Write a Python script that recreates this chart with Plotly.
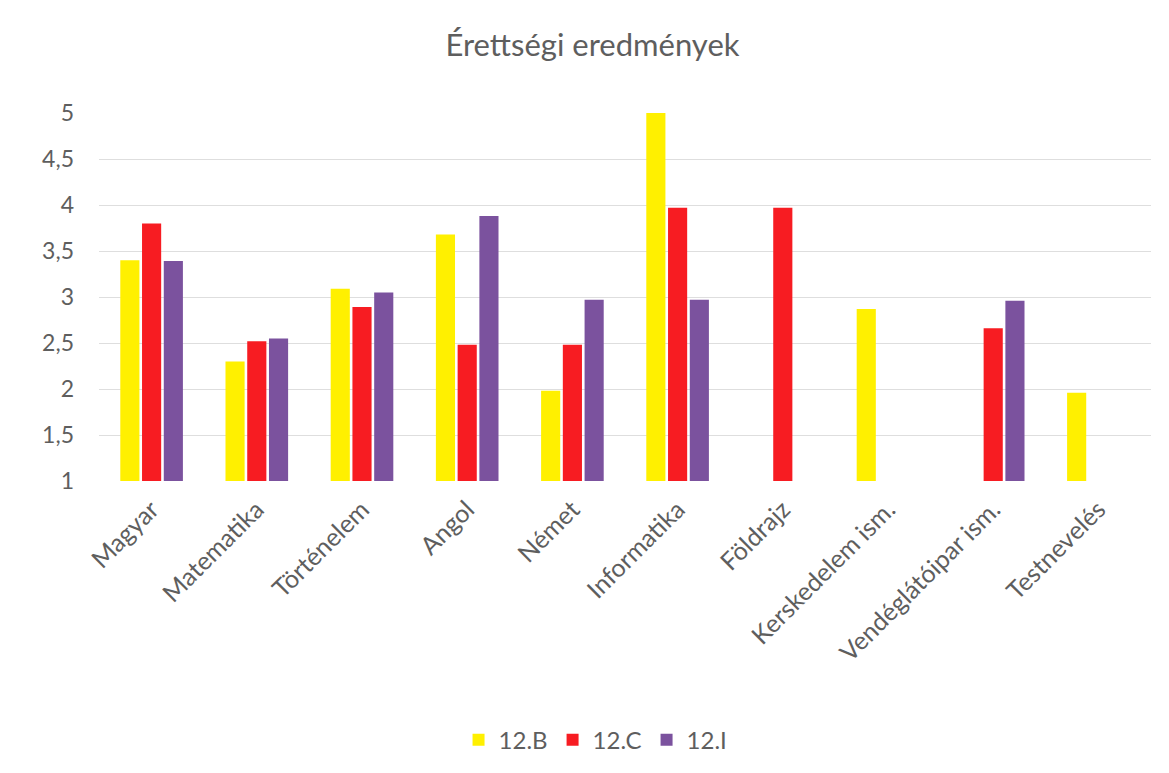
import plotly.graph_objects as go

categories = ["Magyar", "Matematika", "Történelem", "Angol", "Német", "Informatika",
              "Földrajz", "Kerskedelem ism.", "Vendéglátóipar ism.", "Testnevelés"]
series_names = ["12.B", "12.C", "12.I"]
b_values = [3.40, 2.30, 3.09, 3.68, 1.98, 5.00, None, 2.87, None, 1.96]
c_values = [3.80, 2.52, 2.89, 2.48, 2.48, 3.97, 3.97, None, 2.66, None]
i_values = [3.39, 2.55, 3.05, 3.88, 2.97, 2.97, None, None, 2.96, None]
y_ticks = [1, 1.5, 2, 2.5, 3, 3.5, 4, 4.5, 5]

colors = ["#FFF000", "#F71C22", "#7B529E"]
FONT = "Lato, 'Open Sans', sans-serif"
GREY = "#5E5E5E"

fig = go.Figure()
for name, vals, col in zip(series_names, [b_values, c_values, i_values], colors):
    fig.add_trace(go.Bar(x=categories, y=vals, name=name, marker_color=col,
                         marker_line_width=0))

fig.update_layout(
    width=1169, height=773,
    paper_bgcolor="white", plot_bgcolor="white",
    separators=", ",
    font=dict(family=FONT, color=GREY, size=20),
    title=dict(text="Érettségi eredmények", x=0.5, xanchor="center",
               y=1 - 37 / 773, yanchor="middle",
               font=dict(size=31, color=GREY, family=FONT)),
    margin=dict(l=91, r=26, t=105, b=300),
    barmode="group", bargap=0.38, bargroupgap=0.12,
    legend=dict(orientation="h", x=0.472, xanchor="center", y=-0.704, yanchor="middle",
                font=dict(size=24, color=GREY), itemwidth=30, traceorder="normal"),
    showlegend=True,
)
fig.update_xaxes(type="category", range=[-0.5, 9.5], tickangle=-45,
                 tickfont=dict(size=25, color=GREY), showgrid=False,
                 showline=False, ticks="", zeroline=False, ticklabelstandoff=8)
fig.update_yaxes(range=[1, 5], tickvals=y_ticks, tickfont=dict(size=23, color=GREY),
                 showgrid=True, gridcolor="#DEDEDE", gridwidth=1, zeroline=False,
                 showline=False, ticks="", ticklabelstandoff=24)

fig.write_html("out.html")
